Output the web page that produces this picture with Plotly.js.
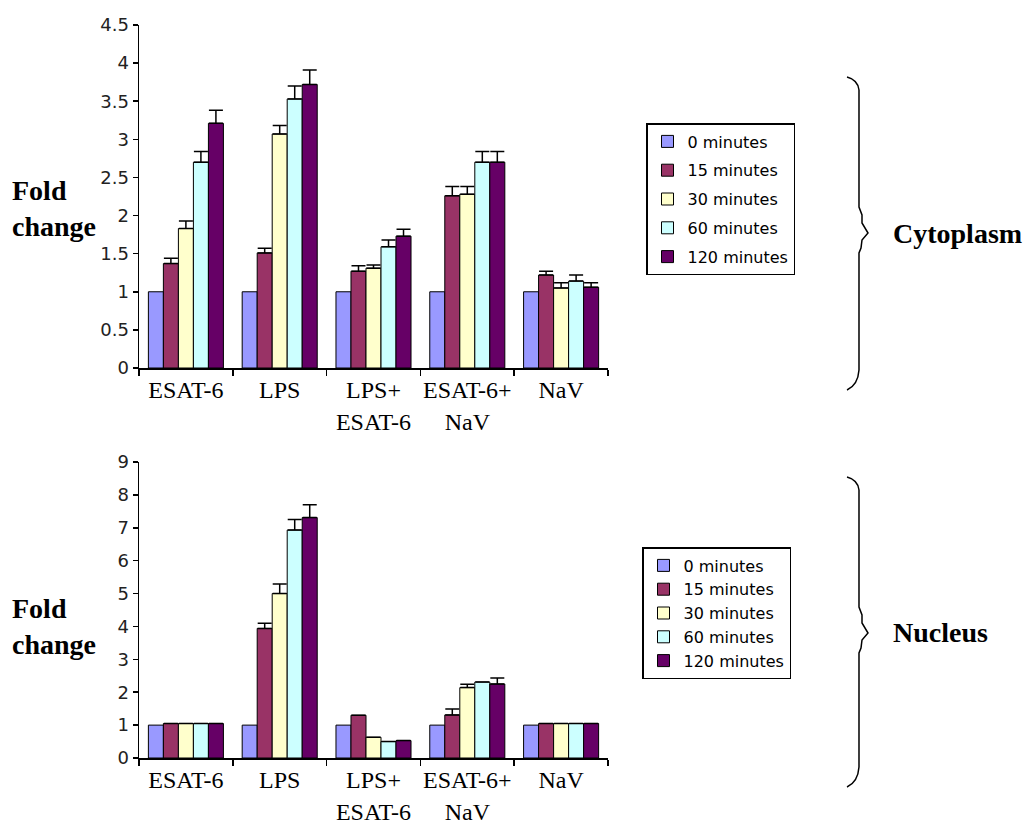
<!DOCTYPE html>
<html>
<head>
<meta charset="utf-8">
<script src="https://cdn.plot.ly/plotly-3.0.1.min.js"></script>
<style>html,body{margin:0;padding:0;background:#fff;}#chart{width:1032px;height:825px;}</style>
</head>
<body>
<div id="chart"></div>
<script>
// ---- Data ----
const categories = ["ESAT-6", "LPS", "LPS+<br>ESAT-6", "ESAT-6+<br>NaV", "NaV"];
const seriesNames = ["0 minutes", "15 minutes", "30 minutes", "60 minutes", "120 minutes"];
const seriesColors = ["#9999FF", "#993366", "#FFFFCC", "#CCFFFF", "#660066"];

// Cytoplasm (top chart)
const cyto0   = [1.00, 1.00, 1.00, 1.00, 1.00];
const cyto15  = [1.37, 1.51, 1.27, 2.26, 1.22];
const cyto30  = [1.83, 3.07, 1.31, 2.28, 1.05];
const cyto60  = [2.70, 3.53, 1.59, 2.70, 1.14];
const cyto120 = [3.21, 3.72, 1.73, 2.70, 1.06];
const cytoErr0   = [null, null, null, null, null];
const cytoErr15  = [0.07, 0.06, 0.07, 0.12, 0.05];
const cytoErr30  = [0.10, 0.11, 0.04, 0.10, 0.07];
const cytoErr60  = [0.14, 0.17, 0.09, 0.14, 0.08];
const cytoErr120 = [0.17, 0.19, 0.09, 0.14, 0.06];

// Nucleus (bottom chart)
const nuc0   = [1.00, 1.00, 1.00, 1.00, 1.00];
const nuc15  = [1.05, 3.94, 1.30, 1.31, 1.05];
const nuc30  = [1.05, 5.00, 0.63, 2.14, 1.05];
const nuc60  = [1.05, 6.93, 0.50, 2.31, 1.05];
const nuc120 = [1.05, 7.31, 0.53, 2.25, 1.05];
const nucErr0   = [null, null, null, null, null];
const nucErr15  = [null, 0.16, null, 0.18, null];
const nucErr30  = [null, 0.29, null, 0.10, null];
const nucErr60  = [null, 0.32, null, null, null];
const nucErr120 = [null, 0.39, null, 0.18, null];

const cytoValues = [cyto0, cyto15, cyto30, cyto60, cyto120];
const cytoErrors = [cytoErr0, cytoErr15, cytoErr30, cytoErr60, cytoErr120];
const nucValues = [nuc0, nuc15, nuc30, nuc60, nuc120];
const nucErrors = [nucErr0, nucErr15, nucErr30, nucErr60, nucErr120];

// ---- Build traces ----
const W = 1032, H = 825;
const px = x => x / W;
const py = y => 1 - y / H;

function makeTrace(i, vals, errs, xa, ya, legend) {
  const hasErr = errs.some(e => e !== null);
  return {
    type: "bar",
    name: seriesNames[i],
    x: categories,
    y: vals,
    xaxis: xa,
    yaxis: ya,
    legend: legend,
    legendgroup: legend + i,
    marker: { color: seriesColors[i], line: { color: "#000", width: 1 } },
    error_y: hasErr ? {
      type: "data", symmetric: false, array: errs,
      arrayminus: errs.map(() => 0),
      color: "#000", thickness: 1.5, width: 7, visible: true
    } : { visible: false }
  };
}

const traces = [];
for (let i = 0; i < 5; i++) traces.push(makeTrace(i, cytoValues[i], cytoErrors[i], "x", "y", "legend"));
for (let i = 0; i < 5; i++) traces.push(makeTrace(i, nucValues[i], nucErrors[i], "x2", "y2", "legend2"));

const xTickFont = { family: "Liberation Serif, Times New Roman, serif", size: 24, color: "#000" };
const yTickFont = { family: "DejaVu Sans, sans-serif", size: 18, color: "#222" };

const xCommon = {
  type: "category",
  showline: true, linecolor: "#000", linewidth: 1.5,
  ticks: "outside", tickson: "boundaries", ticklen: 6, tickcolor: "#000", tickwidth: 1.5,
  tickangle: 0,
  showgrid: false, zeroline: false, tickfont: xTickFont, automargin: false, fixedrange: true
};
const yCommon = {
  showline: true, linecolor: "#000", linewidth: 1.5,
  ticks: "outside", ticklen: 5, tickcolor: "#000", tickwidth: 1.5,
  showgrid: false, zeroline: false, tickfont: yTickFont, automargin: false, fixedrange: true
};

function bracePath(top, mid, bot) {
  const pts = [
    ["M", 847, top], ["Q", 858, top + 3, 859, top + 13],
    ["L", 859, mid - 26], ["L", 862, mid - 18], ["L", 862, mid - 10], ["L", 868, mid],
    ["L", 862, mid + 7], ["L", 861, mid + 15], ["L", 859, mid + 20],
    ["L", 859, bot - 20], ["Q", 858, bot - 5, 847, bot]
  ];
  return pts.map(p => {
    const cmd = p[0];
    const c = [];
    for (let k = 1; k < p.length; k += 2) c.push(px(p[k]).toFixed(5) + "," + py(p[k + 1]).toFixed(5));
    return cmd + " " + c.join(" ");
  }).join(" ");
}

const legendCommon = {
  xanchor: "left", yanchor: "top",
  bgcolor: "#fff", bordercolor: "#000", borderwidth: 1.5,
  font: { family: "DejaVu Sans, sans-serif", size: 16, color: "#000" },
  traceorder: "grouped"
};

const layout = {
  width: W, height: H,
  margin: { l: 0, r: 0, t: 0, b: 0 },
  paper_bgcolor: "#fff", plot_bgcolor: "#fff",
  barmode: "group", bargap: 0.2, bargroupgap: 0,
  showlegend: true,
  xaxis: Object.assign({}, xCommon, { domain: [px(139), px(608)], anchor: "y" }),
  yaxis: Object.assign({}, yCommon, { domain: [py(368), py(25)], range: [0, 4.5], dtick: 0.5, anchor: "x" }),
  xaxis2: Object.assign({}, xCommon, { domain: [px(139), px(608)], anchor: "y2" }),
  yaxis2: Object.assign({}, yCommon, { domain: [py(758), py(462)], range: [0, 9], dtick: 1, anchor: "x2" }),
  legend: Object.assign({}, legendCommon, { x: px(646), y: py(123), tracegroupgap: 5 }),
  legend2: Object.assign({}, legendCommon, { x: px(642), y: py(547), tracegroupgap: 0 }),
  annotations: [
    { text: "<b>Fold<br>change</b>", xref: "paper", yref: "paper", x: px(10), y: py(208),
      xanchor: "left", yanchor: "middle", align: "left", showarrow: false,
      font: { family: "Liberation Serif, Times New Roman, serif", size: 28, color: "#000" } },
    { text: "<b>Fold<br>change</b>", xref: "paper", yref: "paper", x: px(10), y: py(626),
      xanchor: "left", yanchor: "middle", align: "left", showarrow: false,
      font: { family: "Liberation Serif, Times New Roman, serif", size: 28, color: "#000" } },
    { text: "<b>Cytoplasm</b>", xref: "paper", yref: "paper", x: px(891), y: py(233),
      xanchor: "left", yanchor: "middle", showarrow: false,
      font: { family: "Liberation Serif, Times New Roman, serif", size: 28, color: "#000" } },
    { text: "<b>Nucleus</b>", xref: "paper", yref: "paper", x: px(891), y: py(632),
      xanchor: "left", yanchor: "middle", showarrow: false,
      font: { family: "Liberation Serif, Times New Roman, serif", size: 28, color: "#000" } }
  ],
  shapes: [
    { type: "path", xref: "paper", yref: "paper", path: bracePath(77, 233, 390), line: { color: "#000", width: 1.5 } },
    { type: "path", xref: "paper", yref: "paper", path: bracePath(477, 633, 787), line: { color: "#000", width: 1.5 } }
  ]
};

Plotly.newPlot("chart", traces, layout, { displayModeBar: false, staticPlot: true });
</script>
</body>
</html>
